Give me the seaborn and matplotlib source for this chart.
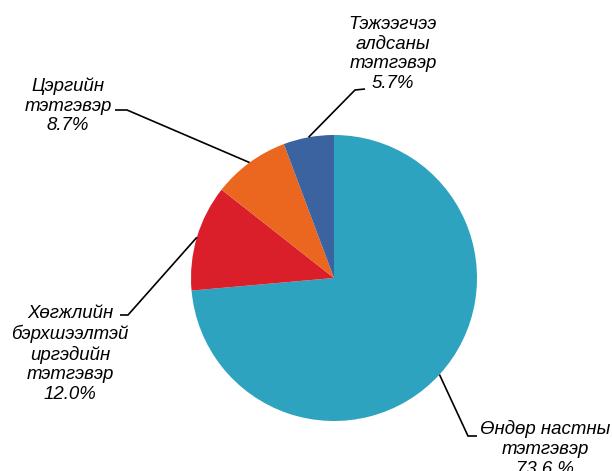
''' Pie chart of pension types '''

import numpy as np
import seaborn as sns
from matplotlib import pyplot as plt

''' Data '''
labels = ["Өндөр настны\nтэтгэвэр",
          "Хөгжлийн\nбэрхшээлтэй\nиргэдийн\nтэтгэвэр",
          "Цэргийн\nтэтгэвэр",
          "Тэжээгчээ\nалдсаны\nтэтгэвэр"]
shares = [73.6, 12.0, 8.7, 5.7]
pct_labels = ["73.6 %", "12.0%", "8.7%", "5.7%"]
colors = ["#2DA3C0", "#DA1F2A", "#EB661F", "#3A63A0"]

''' Layout (pixels in the 612x471 image) '''
W, H = 612, 471
CX, CY, R = 334, 278, 143
text_px = [(545, 449), (70, 354), (68, 106), (393, 54)]
elbow_px = [(468, 436), (128, 315), (127, 110), (355, 90)]
end_px = [(477, 436), (120, 315), (115, 110), (365, 89)]


def to_data(p):
       return ((p[0] - CX) / R, (CY - p[1]) / R)


sns.set_theme(style = "white")
plt.rcParams['font.family'] = ['Liberation Sans', 'DejaVu Sans']

fig = plt.figure(figsize = (W / 100, H / 100), dpi = 100)
ax = fig.add_axes([0, 0, 1, 1])

ax.pie(shares, colors = colors, startangle = 90, counterclock = False,
       radius = 1, center = (0, 0), wedgeprops = dict(linewidth = 0))

ax.set_xlim(-CX / R, (W - CX) / R)
ax.set_ylim(-(H - CY) / R, CY / R)
ax.set_aspect('auto')
ax.axis('off')

total = sum(shares)
cum = np.cumsum([0] + shares[:-1])
for i in range(len(shares)):
       theta = np.deg2rad(90 - 360 * (cum[i] + shares[i] / 2) / total)
       start = (np.cos(theta), np.sin(theta))
       ex, ey = to_data(elbow_px[i])
       nx, ny = to_data(end_px[i])
       ax.plot([start[0], ex, nx], [start[1], ey, ny], color = "black", lw = 1.2,
               solid_capstyle = "butt", solid_joinstyle = "miter")
       tx, ty = to_data(text_px[i])
       ax.text(tx, ty, f"{labels[i]}\n{pct_labels[i]}", ha = "center", va = "center",
               multialignment = "center", fontsize = 13.4, style = "italic",
               color = "black", linespacing = 1.2)

fig.savefig("out.png", dpi = 100)
